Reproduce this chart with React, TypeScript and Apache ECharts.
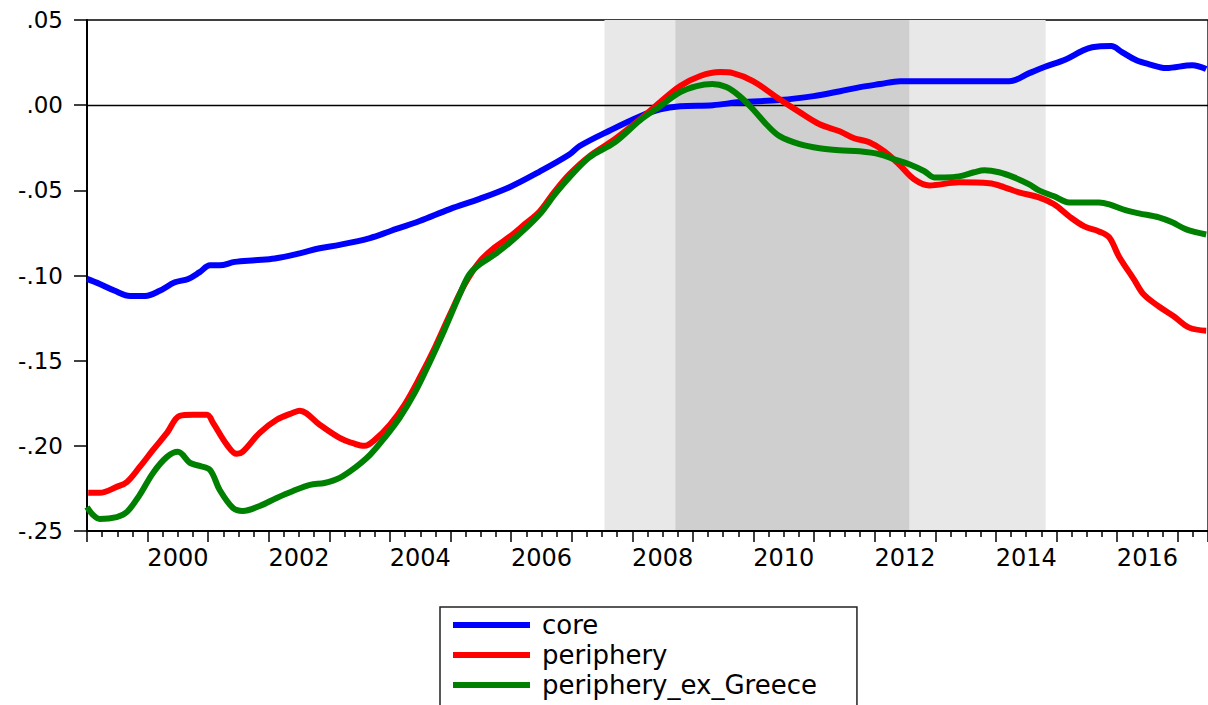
import React, { useEffect, useRef } from "react";
import * as echarts from "echarts";

// ---- Data (decimal years, values) ----
const coreDates = [1999.0, 1999.21, 1999.46, 1999.71, 1999.96, 2000.2, 2000.45, 2000.67, 2000.86, 2001.03, 2001.19, 2001.44, 2001.77, 2002.1, 2002.51, 2002.84, 2003.17, 2003.67, 2004.0, 2004.49, 2004.99, 2005.48, 2005.98, 2006.47, 2006.96, 2007.13, 2007.62, 2008.13, 2008.46, 2008.79, 2009.33, 2009.78, 2010.44, 2010.99, 2011.43, 2011.76, 2012.09, 2012.42, 2012.75, 2013.24, 2013.73, 2014.22, 2014.55, 2014.8, 2015.16, 2015.42, 2015.59, 2015.9, 2016.08, 2016.31, 2016.53, 2016.81, 2017.24, 2017.47];
const coreValues = [-0.102, -0.105, -0.109, -0.112, -0.112, -0.109, -0.104, -0.102, -0.098, -0.094, -0.094, -0.092, -0.091, -0.09, -0.087, -0.084, -0.082, -0.078, -0.074, -0.068, -0.061, -0.055, -0.048, -0.039, -0.029, -0.024, -0.015, -0.0065, -0.0024, -0.0006, 0.0, 0.0018, 0.003, 0.0053, 0.0082, 0.0106, 0.0124, 0.0141, 0.0141, 0.0141, 0.0141, 0.014, 0.0188, 0.0224, 0.027, 0.0318, 0.034, 0.0347, 0.0312, 0.0265, 0.024, 0.0218, 0.0235, 0.0212];

const peripheryDates = [1999.02, 1999.21, 1999.49, 1999.66, 1999.87, 2000.09, 2000.32, 2000.53, 2000.75, 2000.98, 2001.08, 2001.31, 2001.47, 2001.57, 2001.85, 2002.13, 2002.4, 2002.51, 2002.84, 2003.17, 2003.42, 2003.58, 2003.75, 2004.0, 2004.24, 2004.49, 2004.74, 2004.99, 2005.23, 2005.48, 2005.73, 2005.98, 2006.22, 2006.47, 2006.72, 2006.96, 2007.29, 2007.71, 2008.13, 2008.46, 2008.79, 2009.12, 2009.45, 2009.66, 2009.99, 2010.43, 2010.76, 2011.09, 2011.42, 2011.66, 2011.91, 2012.16, 2012.4, 2012.65, 2012.9, 2013.39, 2013.89, 2014.14, 2014.38, 2014.71, 2014.96, 2015.21, 2015.46, 2015.7, 2015.87, 2016.03, 2016.28, 2016.44, 2016.69, 2016.94, 2017.19, 2017.47];
const peripheryValues = [-0.2275, -0.2276, -0.2241, -0.2212, -0.2124, -0.2024, -0.1924, -0.1824, -0.1818, -0.1818, -0.1865, -0.1994, -0.2047, -0.2035, -0.1924, -0.1847, -0.1806, -0.1794, -0.1876, -0.1953, -0.1988, -0.2, -0.1965, -0.1876, -0.1759, -0.16, -0.1424, -0.1229, -0.1053, -0.0918, -0.0835, -0.0771, -0.07, -0.0624, -0.0506, -0.0406, -0.03, -0.02, -0.0082, 0.0018, 0.0112, 0.0171, 0.0194, 0.0188, 0.0141, 0.0035, -0.0041, -0.0112, -0.0153, -0.0194, -0.0218, -0.0271, -0.0347, -0.0435, -0.0471, -0.0453, -0.0459, -0.0482, -0.0512, -0.0541, -0.0582, -0.0653, -0.0712, -0.0741, -0.0776, -0.0888, -0.1024, -0.1112, -0.1182, -0.1241, -0.1306, -0.1324];

const exGreeceDates = [1999.0, 1999.1, 1999.21, 1999.49, 1999.66, 1999.87, 2000.09, 2000.32, 2000.5, 2000.7, 2000.86, 2001.03, 2001.19, 2001.41, 2001.57, 2001.85, 2002.13, 2002.4, 2002.68, 2002.92, 2003.17, 2003.42, 2003.67, 2003.91, 2004.16, 2004.41, 2004.66, 2004.9, 2005.15, 2005.31, 2005.48, 2005.73, 2005.98, 2006.22, 2006.47, 2006.72, 2006.96, 2007.29, 2007.71, 2008.13, 2008.46, 2008.79, 2009.06, 2009.32, 2009.55, 2009.77, 2009.99, 2010.21, 2010.43, 2010.76, 2011.09, 2011.42, 2011.75, 2012.08, 2012.32, 2012.57, 2012.82, 2012.98, 2013.15, 2013.39, 2013.64, 2013.81, 2014.05, 2014.3, 2014.55, 2014.71, 2014.96, 2015.21, 2015.7, 2015.87, 2016.15, 2016.36, 2016.69, 2016.91, 2017.14, 2017.47];
const exGreeceValues = [-0.2359, -0.2406, -0.2429, -0.2418, -0.2388, -0.2288, -0.2159, -0.2065, -0.2035, -0.21, -0.2118, -0.2141, -0.2259, -0.2365, -0.2382, -0.2353, -0.2306, -0.2265, -0.2229, -0.2218, -0.2188, -0.2129, -0.2053, -0.1953, -0.1835, -0.1688, -0.1506, -0.1318, -0.1112, -0.0994, -0.0935, -0.0876, -0.0806, -0.0729, -0.0641, -0.0524, -0.0424, -0.0306, -0.0218, -0.0088, -0.0006, 0.0076, 0.0112, 0.0124, 0.0106, 0.0053, -0.0024, -0.0112, -0.0182, -0.0229, -0.0253, -0.0265, -0.0271, -0.0288, -0.0318, -0.0347, -0.0388, -0.0424, -0.0424, -0.0418, -0.0394, -0.0382, -0.0394, -0.0424, -0.0465, -0.05, -0.0535, -0.0571, -0.0571, -0.0582, -0.0618, -0.0635, -0.0659, -0.0688, -0.0729, -0.0759];

const seriesNames = ["core", "periphery", "periphery_ex_Greece"];
const seriesColors = ["#0000FF", "#FF0000", "#008000"];

// shaded periods (decimal years)
const lightShade = [2007.54, 2014.82];
const darkShade = [2008.71, 2012.57];

// axes
const xMin = 1999;
const xMax = 2017.5;
const xLabelYears = [2000, 2002, 2004, 2006, 2008, 2010, 2012, 2014, 2016];
const yMin = -0.25;
const yMax = 0.05;
const yStep = 0.05;

const FONT = "DejaVu Sans";

function zip(d: number[], v: number[]) {
  return d.map((x, i) => [x, v[i]]);
}

function fmtY(v: number) {
  const s = Math.abs(v).toFixed(2).replace(/^0/, "");
  return (v < -1e-9 ? "-" : "") + s;
}

export default function App() {
  const ref = useRef<HTMLDivElement>(null);
  useEffect(() => {
    if (!ref.current) return;
    const chart = echarts.init(ref.current, null, { renderer: "svg" });
    const datasets = [
      zip(coreDates, coreValues),
      zip(peripheryDates, peripheryValues),
      zip(exGreeceDates, exGreeceValues),
    ];
    chart.setOption({
      animation: false,
      backgroundColor: "#ffffff",
      grid: {
        left: 87,
        top: 20,
        right: -3,
        bottom: 174,
        show: true,
        borderColor: "#000",
        borderWidth: 1.3,
        backgroundColor: "transparent",
      },
      legend: {
        orient: "vertical",
        left: 440,
        top: 607,
        height: 200,
        data: seriesNames,
        icon: "rect",
        itemWidth: 77,
        itemHeight: 6,
        itemGap: 4,
        padding: [5, 40, 30, 13],
        borderColor: "#222",
        borderWidth: 1.5,
        textStyle: {
          fontFamily: FONT,
          fontSize: 26,
          color: "#000",
          padding: [0, 0, 0, 7],
        },
      },
      xAxis: {
        type: "value",
        min: xMin,
        max: xMax,
        interval: 1,
        splitLine: { show: false },
        axisLine: { onZero: false, lineStyle: { color: "#000", width: 2 } },
        axisTick: { show: true, length: 11, lineStyle: { color: "#000", width: 1.5 } },
        minorTick: { show: true, splitNumber: 4, length: 6, lineStyle: { color: "#000", width: 1.5 } },
        minorSplitLine: { show: false },
        axisLabel: {
          customValues: xLabelYears.map((y) => y + 0.5),
          formatter: (v: number) => String(Math.floor(v)),
          fontFamily: FONT,
          fontSize: 24,
          color: "#000",
          margin: 15,
        },
      },
      yAxis: {
        type: "value",
        min: yMin,
        max: yMax,
        interval: yStep,
        splitLine: { show: false },
        axisLine: { show: true, lineStyle: { color: "#000", width: 2 } },
        axisTick: { show: true, length: 13, lineStyle: { color: "#000", width: 1.5 } },
        axisLabel: {
          formatter: fmtY,
          fontFamily: FONT,
          fontSize: 23,
          color: "#000",
          margin: 24,
        },
      },
      series: [
        {
          name: "__shade",
          type: "line",
          data: [],
          z: 0,
          silent: true,
          markArea: {
            silent: true,
            z: 0,
            data: [
              [{ xAxis: lightShade[0], itemStyle: { color: "#E8E8E8" } }, { xAxis: lightShade[1] }],
              [{ xAxis: darkShade[0], itemStyle: { color: "#CFCFCF" } }, { xAxis: darkShade[1] }],
            ],
          },
          markLine: {
            silent: true,
            symbol: "none",
            label: { show: false },
            z: 1,
            lineStyle: { color: "#000", width: 1.3, type: "solid" },
            data: [{ yAxis: 0 }],
          },
        },
        ...seriesNames.map((name, i) => ({
          name,
          type: "line",
          data: datasets[i],
          showSymbol: false,
          smooth: 0.35,
          z: 5,
          color: seriesColors[i],
          lineStyle: { color: seriesColors[i], width: 6 },
        })),
      ],
    });
    return () => chart.dispose();
  }, []);
  return (
    <div
      ref={ref}
      style={{ position: "absolute", left: 0, top: 0, width: 1208, height: 705 }}
    />
  );
}
